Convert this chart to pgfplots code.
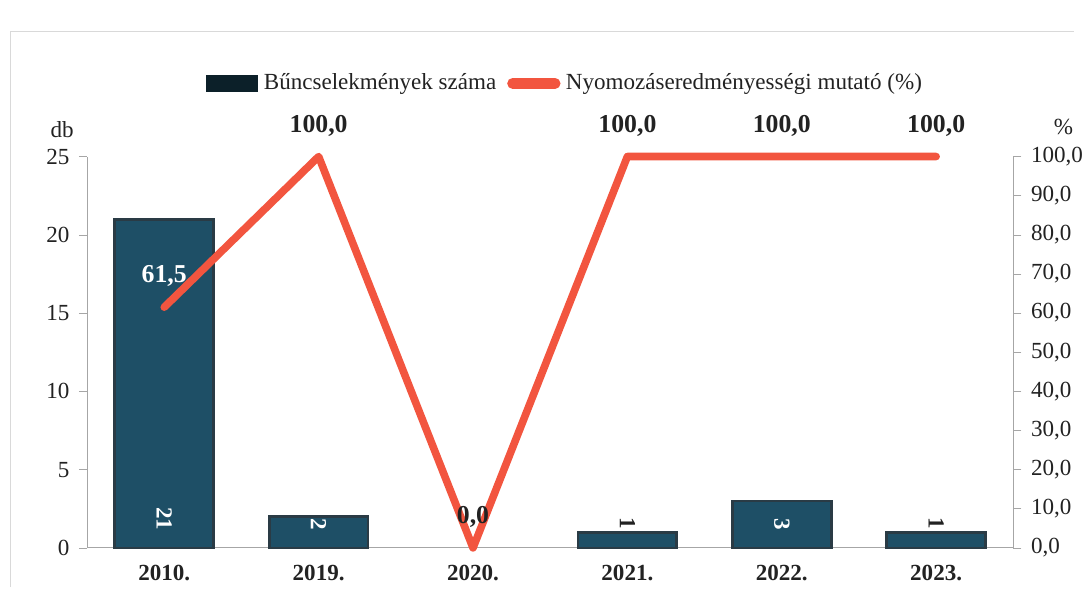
\documentclass[border=0pt]{standalone}
\usepackage{fontspec}
\setmainfont{Liberation Serif}
\usepackage{pgfplots}
\pgfplotsset{compat=1.18}
\definecolor{barblue}{HTML}{1E4F66}
\definecolor{baredge}{HTML}{2A3B45}
\definecolor{linered}{HTML}{F2553F}
\definecolor{txt}{HTML}{222222}

\begin{document}
\begin{tikzpicture}[font=\fontsize{8.5}{10}\selectfont, text=txt]
\pgfplotsset{
  every axis/.append style={
    scale only axis, width=12cm, height=5.07cm,
    xmin=-0.5, xmax=5.5, clip=false,
    axis line style={gray!70}, tick style={gray!70},
    tick align=outside, major tick length=3pt,
    /pgf/number format/assume math mode=true,
  },
}
% bars: number of offences (2020 has 0, so no bar)
\begin{axis}[
  axis y line*=left, axis x line*=bottom,
  ymin=0, ymax=25, ytick={0,5,...,25},
  xtick={0,...,5},
  xticklabels={2010.,2019.,2020.,2021.,2022.,2023.},
  xticklabel style={font=\fontsize{8.5}{10}\selectfont\bfseries},
  x tick style={draw=none},
  legend style={at={(0.518,1.187)}, anchor=center, draw=none, fill=none,
    legend columns=-1, inner sep=0pt,
    /tikz/every even column/.append style={column sep=2pt}},
]
\addplot[ybar, bar width=1.28cm, fill=barblue, draw=baredge, line width=1pt,
  legend image code/.code={\fill[barblue!40!black] (0cm,-0.09cm) rectangle (0.64cm,0.09cm);}]
  coordinates {(0,21) (1,2) (3,1) (4,3) (5,1)};
\addlegendentry{Bűncselekmények száma}
\addlegendimage{linered, line width=3pt, line cap=round,
  legend image code/.code={\draw[linered, line width=4pt, line cap=round] (0.05cm,0cm) -- (0.6cm,0cm);}}
\addlegendentry{Nyomozáseredményességi mutató (\%)}
% bar values
\addplot[draw=none, point meta=explicit, nodes near coords,
  nodes near coords style={white, font=\fontsize{8.5}{10}\selectfont\bfseries, yshift=3pt, rotate=-90, anchor=east}]
  coordinates {(0,0)[21] (1,0)[2] (4,0)[3]};
\addplot[draw=none, point meta=explicit, nodes near coords,
  nodes near coords style={txt, font=\fontsize{8.5}{10}\selectfont\bfseries, yshift=9pt, rotate=-90, anchor=center}]
  coordinates {(3,0)[1] (5,0)[1]};
\node at (rel axis cs:-0.027,1.07) {db};
\node at (rel axis cs:1.054,1.076) {\%};
\draw[gray!30] (rel axis cs:-0.083,-0.1) -- (rel axis cs:-0.083,1.319) -- (rel axis cs:1.066,1.319);
\path (rel axis cs:-0.094,-0.167) rectangle (rel axis cs:1.074,1.4);
\end{axis}
% line: detection rate
\begin{axis}[
  axis y line*=right, axis x line=none,
  ymin=0, ymax=100, ytick={0,10,...,100},
  /pgf/number format/fixed, /pgf/number format/fixed zerofill,
  /pgf/number format/precision=1, /pgf/number format/use comma,
]
\addplot[linered, line width=2.8pt, line join=round, line cap=round]
  coordinates {(0,61.5) (1,100) (2,0) (3,100) (4,100) (5,100)};
\addplot[draw=none, nodes near coords,
  nodes near coords style={txt, font=\fontsize{9.5}{11}\selectfont\bfseries, anchor=south, yshift=4pt}]
  coordinates {(1,100) (2,0) (3,100) (4,100) (5,100)};
\addplot[draw=none, nodes near coords,
  nodes near coords style={white, font=\fontsize{9.5}{11}\selectfont\bfseries, anchor=south, yshift=4pt}]
  coordinates {(0,61.5)};
\end{axis}
\end{tikzpicture}
\end{document}
